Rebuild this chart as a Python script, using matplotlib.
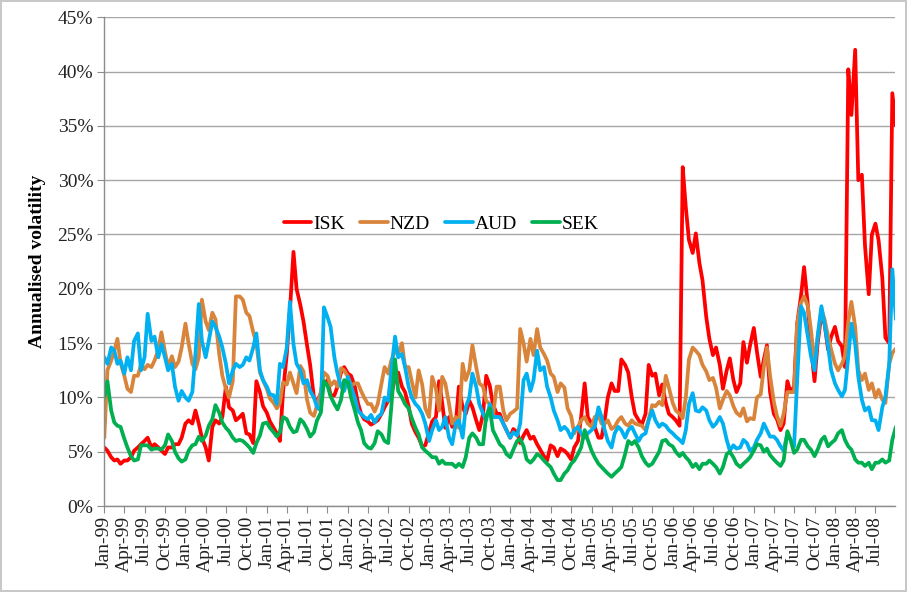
import matplotlib
matplotlib.use("Agg")
import matplotlib.pyplot as plt
import matplotlib.dates as mdates
from matplotlib.ticker import FuncFormatter, MultipleLocator
import pandas as pd

# Semi-monthly readings (1st and 15th of each month), Jan-1999 .. Oct-2008, in %
isk = [5.4,5.1,4.5,4.2,4.3,3.9,4.2,4.2,4.5,5.1,
       5.4,5.7,6.0,6.3,5.4,5.7,5.4,5.1,4.8,5.4,
       5.4,5.7,5.7,6.3,7.6,7.9,7.6,8.8,7.6,6.3,
       5.4,4.2,7.3,7.9,7.6,8.2,11.0,9.1,8.8,7.9,
       8.2,8.5,6.7,6.6,5.8,11.5,10.5,9.2,8.6,7.8,
       7.2,6.7,6.0,10.5,14.0,18.0,23.4,20.0,18.5,17.0,
       14.8,13.0,10.0,9.6,10.4,11.2,11.6,10.2,10.2,11.0,
       12.3,12.8,12.2,12.0,11.0,9.5,8.5,8.0,7.8,7.5,
       7.7,7.9,8.5,9.1,9.7,10.3,11.8,12.3,11.0,10.5,
       9.2,7.6,6.8,6.3,5.5,5.6,6.8,7.8,8.2,11.5,
       9.5,7.2,8.2,7.3,7.5,11.0,9.1,8.5,9.7,9.1,
       7.9,7.0,8.5,12.0,11.1,9.4,8.5,8.5,7.6,7.0,
       6.3,7.1,6.8,5.8,6.5,7.0,6.2,6.4,5.7,5.2,
       4.6,4.2,5.6,5.4,4.6,5.3,5.1,4.8,4.3,5.4,
       6.0,8.2,11.3,8.2,7.6,7.3,6.3,6.3,7.9,10.0,
       11.3,10.6,10.6,13.5,13.0,12.3,10.0,8.5,7.9,7.5,
       8.5,13.0,12.0,12.2,10.2,11.2,9.5,8.5,8.2,7.9,
       7.4,31.2,27.5,24.5,23.3,25.1,22.4,20.8,17.4,15.4,
       13.9,14.6,13.0,10.8,12.5,13.6,11.6,10.5,11.3,15.1,
       13.2,14.8,16.4,14.2,11.9,13.5,14.8,10.5,8.5,8.0,
       7.0,7.6,11.5,10.5,11.0,16.8,19.3,22.0,18.5,14.7,
       11.5,15.0,17.6,16.8,14.4,15.6,16.5,15.2,14.7,12.8,
       40.2,36.0,42.0,30.0,30.5,24.0,19.5,25.0,26.0,24.5,
       21.0,15.5,15.0,38.0,35.0]

nzd = [6.3,12.5,13.4,14.3,15.4,13.2,12.0,10.8,10.5,12.0,
       12.0,13.0,12.6,13.0,12.8,13.4,14.4,16.0,14.2,12.8,
       13.8,12.8,13.3,14.6,16.8,15.0,13.1,12.6,13.7,19.0,
       17.0,16.2,17.8,17.2,14.0,12.0,10.8,10.0,11.5,19.3,
       19.3,19.0,17.8,17.5,16.0,15.0,12.3,11.6,10.8,9.9,
       9.5,9.0,9.5,11.4,11.2,12.3,11.3,10.4,12.9,12.4,
       9.8,8.6,8.3,9.3,10.5,12.3,12.0,11.1,11.5,11.0,
       12.7,12.5,11.9,11.1,11.3,11.3,10.6,10.0,9.4,9.4,
       8.7,9.4,11.3,12.8,12.2,13.4,14.3,14.0,15.0,12.8,
       12.8,11.5,10.0,12.5,11.2,9.0,8.2,11.9,10.8,8.8,
       11.9,11.3,9.4,7.6,8.2,7.2,13.1,11.6,12.5,14.8,
       12.8,11.3,11.0,9.7,9.4,8.2,11.0,11.0,8.8,7.9,
       8.5,8.7,9.0,16.3,15.0,13.3,15.4,13.9,16.3,14.6,
       14.0,13.4,12.2,11.9,10.5,11.3,10.9,9.0,8.3,6.7,
       7.3,7.9,8.2,7.6,7.3,8.2,8.4,7.6,7.6,7.9,
       7.1,7.3,7.9,8.2,7.6,7.4,7.9,7.6,7.5,7.4,
       7.0,8.0,9.3,9.2,9.6,9.3,12.0,10.9,9.5,8.8,
       8.5,8.1,10.0,13.5,14.6,14.3,13.9,13.0,12.4,11.6,
       11.8,10.9,9.0,9.8,10.6,10.2,9.2,8.6,8.3,9.0,
       7.8,8.1,8.0,10.0,10.3,12.8,14.6,12.0,9.6,8.3,
       7.4,8.5,10.5,10.5,10.5,16.8,18.7,19.3,18.4,16.2,
       13.1,15.5,18.1,17.2,15.6,14.4,13.1,12.5,13.1,13.8,
       17.0,18.8,16.5,12.5,11.6,12.2,10.7,11.3,10.0,10.7,
       9.8,9.5,13.1,14.1,14.5]

aud = [13.7,13.1,14.6,14.3,13.1,13.4,12.2,13.7,12.5,15.2,
       15.9,12.5,13.7,17.7,15.2,15.6,13.7,14.9,13.7,12.5,
       13.1,11.0,9.7,10.6,10.0,9.7,10.5,14.0,18.6,15.2,
       13.7,15.2,17.0,16.5,15.6,14.6,13.1,11.3,12.5,13.1,
       12.8,13.0,13.7,13.4,14.6,15.9,12.5,11.6,11.0,10.3,
       10.2,9.4,13.1,12.8,14.6,18.8,14.9,13.1,12.5,11.3,
       11.6,10.6,10.0,9.1,8.8,18.3,17.4,16.5,13.7,12.2,
       11.0,10.6,11.9,11.0,10.0,8.8,8.5,8.2,8.0,8.4,
       7.7,8.2,8.5,10.0,9.7,12.5,15.6,13.7,14.0,12.8,
       11.0,10.0,9.4,9.1,8.5,7.6,6.0,7.0,7.9,7.0,
       7.3,8.2,6.3,5.7,7.6,7.9,6.3,9.1,10.0,12.2,
       11.0,9.4,8.5,7.9,9.4,8.2,8.2,8.2,7.6,7.0,
       6.3,6.8,6.5,7.6,11.6,12.2,10.6,11.6,14.3,12.5,
       12.8,11.0,10.0,8.8,7.9,7.0,7.3,7.0,6.3,7.0,
       7.3,6.7,6.3,6.7,7.0,7.3,9.1,8.2,7.0,6.0,
       5.4,6.7,7.3,7.0,6.3,7.0,7.3,6.7,6.0,6.5,
       6.7,7.9,8.8,7.9,7.3,7.6,7.4,7.0,6.7,6.4,
       6.1,5.8,7.0,9.4,10.4,8.8,8.7,9.1,8.8,7.9,
       7.3,7.6,8.2,7.6,6.1,5.1,5.6,5.3,5.4,6.1,
       5.8,5.1,5.4,6.1,6.7,7.6,7.0,6.4,6.4,6.1,
       5.5,5.1,6.7,6.1,5.5,11.6,18.4,17.8,15.6,13.8,
       12.5,15.6,18.4,16.8,14.7,12.5,11.3,10.7,10.1,10.7,
       13.8,16.8,14.9,11.9,9.8,8.8,9.1,7.9,7.9,7.0,
       9.1,10.1,13.1,21.8,17.2]

sek = [10.0,11.5,8.8,7.7,7.4,7.3,6.2,5.4,4.6,4.2,
       4.3,5.6,5.6,5.6,5.2,5.3,5.3,5.2,5.6,6.6,
       6.0,5.0,4.4,4.1,4.3,5.1,5.6,5.7,6.4,6.0,
       6.5,7.4,8.0,9.3,8.6,7.7,7.2,6.9,6.3,6.0,
       6.1,6.0,5.7,5.4,4.9,5.8,6.5,7.6,7.7,7.2,
       6.8,6.4,6.8,8.2,8.0,7.3,6.8,6.9,8.0,7.7,
       7.1,6.4,6.8,7.9,8.6,11.5,11.1,10.1,9.4,8.9,
       9.8,11.6,11.4,10.0,8.8,7.7,7.0,5.8,5.4,5.3,
       5.8,6.9,6.6,6.0,5.8,9.1,13.5,10.6,10.0,9.4,
       9.0,8.1,7.2,6.6,5.4,5.1,4.8,4.5,4.5,3.9,
       4.2,3.9,3.9,3.9,3.6,3.9,3.6,4.5,6.3,6.7,
       6.3,5.7,5.7,8.3,9.0,7.0,6.3,5.7,5.4,4.8,
       4.5,5.2,6.0,6.2,5.5,4.3,4.0,4.3,4.8,4.6,
       4.2,3.9,3.6,3.0,2.4,2.4,3.0,3.3,3.9,4.2,
       4.8,5.4,7.0,6.1,5.1,4.5,3.9,3.6,3.3,3.0,
       2.7,3.0,3.3,3.6,4.8,6.0,5.7,6.0,5.4,4.6,
       4.0,3.7,3.9,4.4,5.0,6.0,6.1,5.7,5.5,5.0,
       4.6,4.9,4.5,4.2,3.6,3.9,3.4,3.9,3.9,4.2,
       3.9,3.6,3.0,3.6,4.8,5.0,4.5,3.9,3.6,3.9,
       4.2,4.5,5.1,5.7,5.6,5.0,5.3,4.7,4.3,4.0,
       3.7,4.2,6.9,6.1,4.9,5.2,6.1,6.1,5.5,5.2,
       4.6,5.2,6.1,6.4,5.5,5.8,6.1,6.7,7.0,6.1,
       5.5,5.2,4.3,4.0,4.0,3.7,4.0,3.4,4.0,4.0,
       4.3,4.0,4.2,6.1,7.3]

series_names = ["ISK", "NZD", "AUD", "SEK"]
series_values = [isk, nzd, aud, sek]
series_colors = ["#FF0000", "#D9843B", "#00B0F0", "#00B050"]

plt.rcParams['font.family'] = ['Liberation Serif', 'DejaVu Serif']

fig = plt.figure(figsize=(9.07, 5.92), dpi=100)
fig.patch.set_facecolor("white")
fig.patch.set_edgecolor("#C8C8C8")
fig.patch.set_linewidth(1.5)

ax = fig.add_axes([0.115, 0.145, 0.872, 0.826])

for name, vals, col in zip(series_names, series_values, series_colors):
    dates = pd.date_range("1999-01-01", periods=len(vals), freq="SMS")
    ax.plot(dates, [v / 100 for v in vals], color=col, lw=2.7, label=name,
            solid_joinstyle="round", solid_capstyle="round")

ax.set_ylim(0, 0.45)
ax.yaxis.set_major_locator(MultipleLocator(0.05))
ax.yaxis.set_major_formatter(FuncFormatter(lambda v, p: f"{v*100:.0f}%"))
ax.set_xlim(pd.Timestamp("1999-01-01"), pd.Timestamp("2008-09-28"))
ax.xaxis.set_major_locator(mdates.MonthLocator(bymonth=[1, 4, 7, 10]))
ax.xaxis.set_major_formatter(mdates.DateFormatter("%b-%y"))

ax.grid(axis="y", color="#A6A6A6", lw=1.0)
ax.set_axisbelow(True)
for s in ["top", "right"]:
    ax.spines[s].set_visible(False)
for s in ["left", "bottom"]:
    ax.spines[s].set_color("#8C8C8C")
    ax.spines[s].set_linewidth(1.0)

ax.tick_params(axis="x", labelsize=14, rotation=90, length=5, color="#8C8C8C",
               pad=2, labelcolor="#222222")
ax.tick_params(axis="y", labelsize=14, length=5, color="#8C8C8C", pad=3,
               labelcolor="#222222")

ax.set_ylabel("Annualised volatility", fontsize=14, fontweight="bold", labelpad=8)

leg = ax.legend(loc="center", bbox_to_anchor=(0.426, 0.577), ncol=4, frameon=False,
                fontsize=14, handlelength=1.4, handletextpad=0.1, columnspacing=0.8)

fig.savefig("out.png", dpi=100)
